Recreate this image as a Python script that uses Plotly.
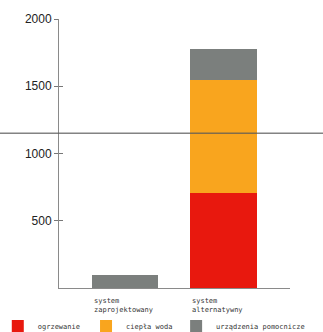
import plotly.graph_objects as go

categories = ["system<br>zaprojektowany", "system<br>alternatywny"]
series_names = ["ogrzewanie", "ciepła woda", "urządzenia pomocnicze"]
ogrzewanie = [0, 705]
ciepla_woda = [0, 840]
urzadzenia = [100, 230]
tick_values = [500, 1000, 1500, 2000]
ref_line_value = 1151

colors = ["#e8180e", "#f9a51e", "#7b7f7d"]
xs = [0, 1]
bar_width = 0.667
legend_ids = ["legend", "legend2", "legend3"]
legend_x = [-0.265, 0.117, 0.507]

fig = go.Figure()
for name, vals, col, lg in zip(series_names, [ogrzewanie, ciepla_woda, urzadzenia], colors, legend_ids):
    fig.add_trace(go.Bar(x=xs, y=vals, name=name, marker=dict(color=col, line=dict(width=0)),
                         width=bar_width, legend=lg))

for i, lab in enumerate(categories):
    fig.add_annotation(x=xs[i] - bar_width / 2, xref="x", y=0, yref="paper",
                       text=lab, showarrow=False, xanchor="left", yanchor="top", align="left",
                       yshift=-7, font=dict(family="DejaVu Sans Mono, monospace", size=7, color="#333"))

fig.add_shape(type="line", xref="paper", yref="y", x0=-0.3, x1=1.2,
              y0=ref_line_value, y1=ref_line_value, layer="above",
              line=dict(color="rgba(90,90,90,0.75)", width=1.5))

legend_style = dict(orientation="h", xanchor="left", y=-0.141, yanchor="middle",
                    font=dict(family="DejaVu Sans Mono, monospace", size=7, color="#333"),
                    itemclick=False, bgcolor="rgba(0,0,0,0)")

fig.update_layout(
    width=323, height=332,
    margin=dict(l=59, r=33, t=19, b=44, autoexpand=False),
    paper_bgcolor="white", plot_bgcolor="white",
    barmode="stack", bargap=0,
    showlegend=True,
    legend=dict(x=legend_x[0], **legend_style),
    legend2=dict(x=legend_x[1], **legend_style),
    legend3=dict(x=legend_x[2], **legend_style),
    xaxis=dict(range=[-0.662, 1.672], showticklabels=False, ticks="", showgrid=False,
               zeroline=False, showline=True, linecolor="#8a8a8a", linewidth=1),
    yaxis=dict(range=[0, 2000], tickvals=tick_values, ticks="outside", ticklen=4,
               tickcolor="#777", showgrid=False, zeroline=False, showline=True,
               linecolor="#8a8a8a", linewidth=1,
               tickfont=dict(family="Liberation Sans, Arial", size=12, color="#222")),
    yaxis2=dict(range=[0, 2000], overlaying="y", tickvals=tick_values, ticks="inside",
                ticklen=4, tickcolor="#777", showticklabels=False, showgrid=False,
                zeroline=False, showline=False),
)
fig.add_trace(go.Scatter(x=[], y=[], yaxis="y2", showlegend=False))

fig.write_html("out.html")
